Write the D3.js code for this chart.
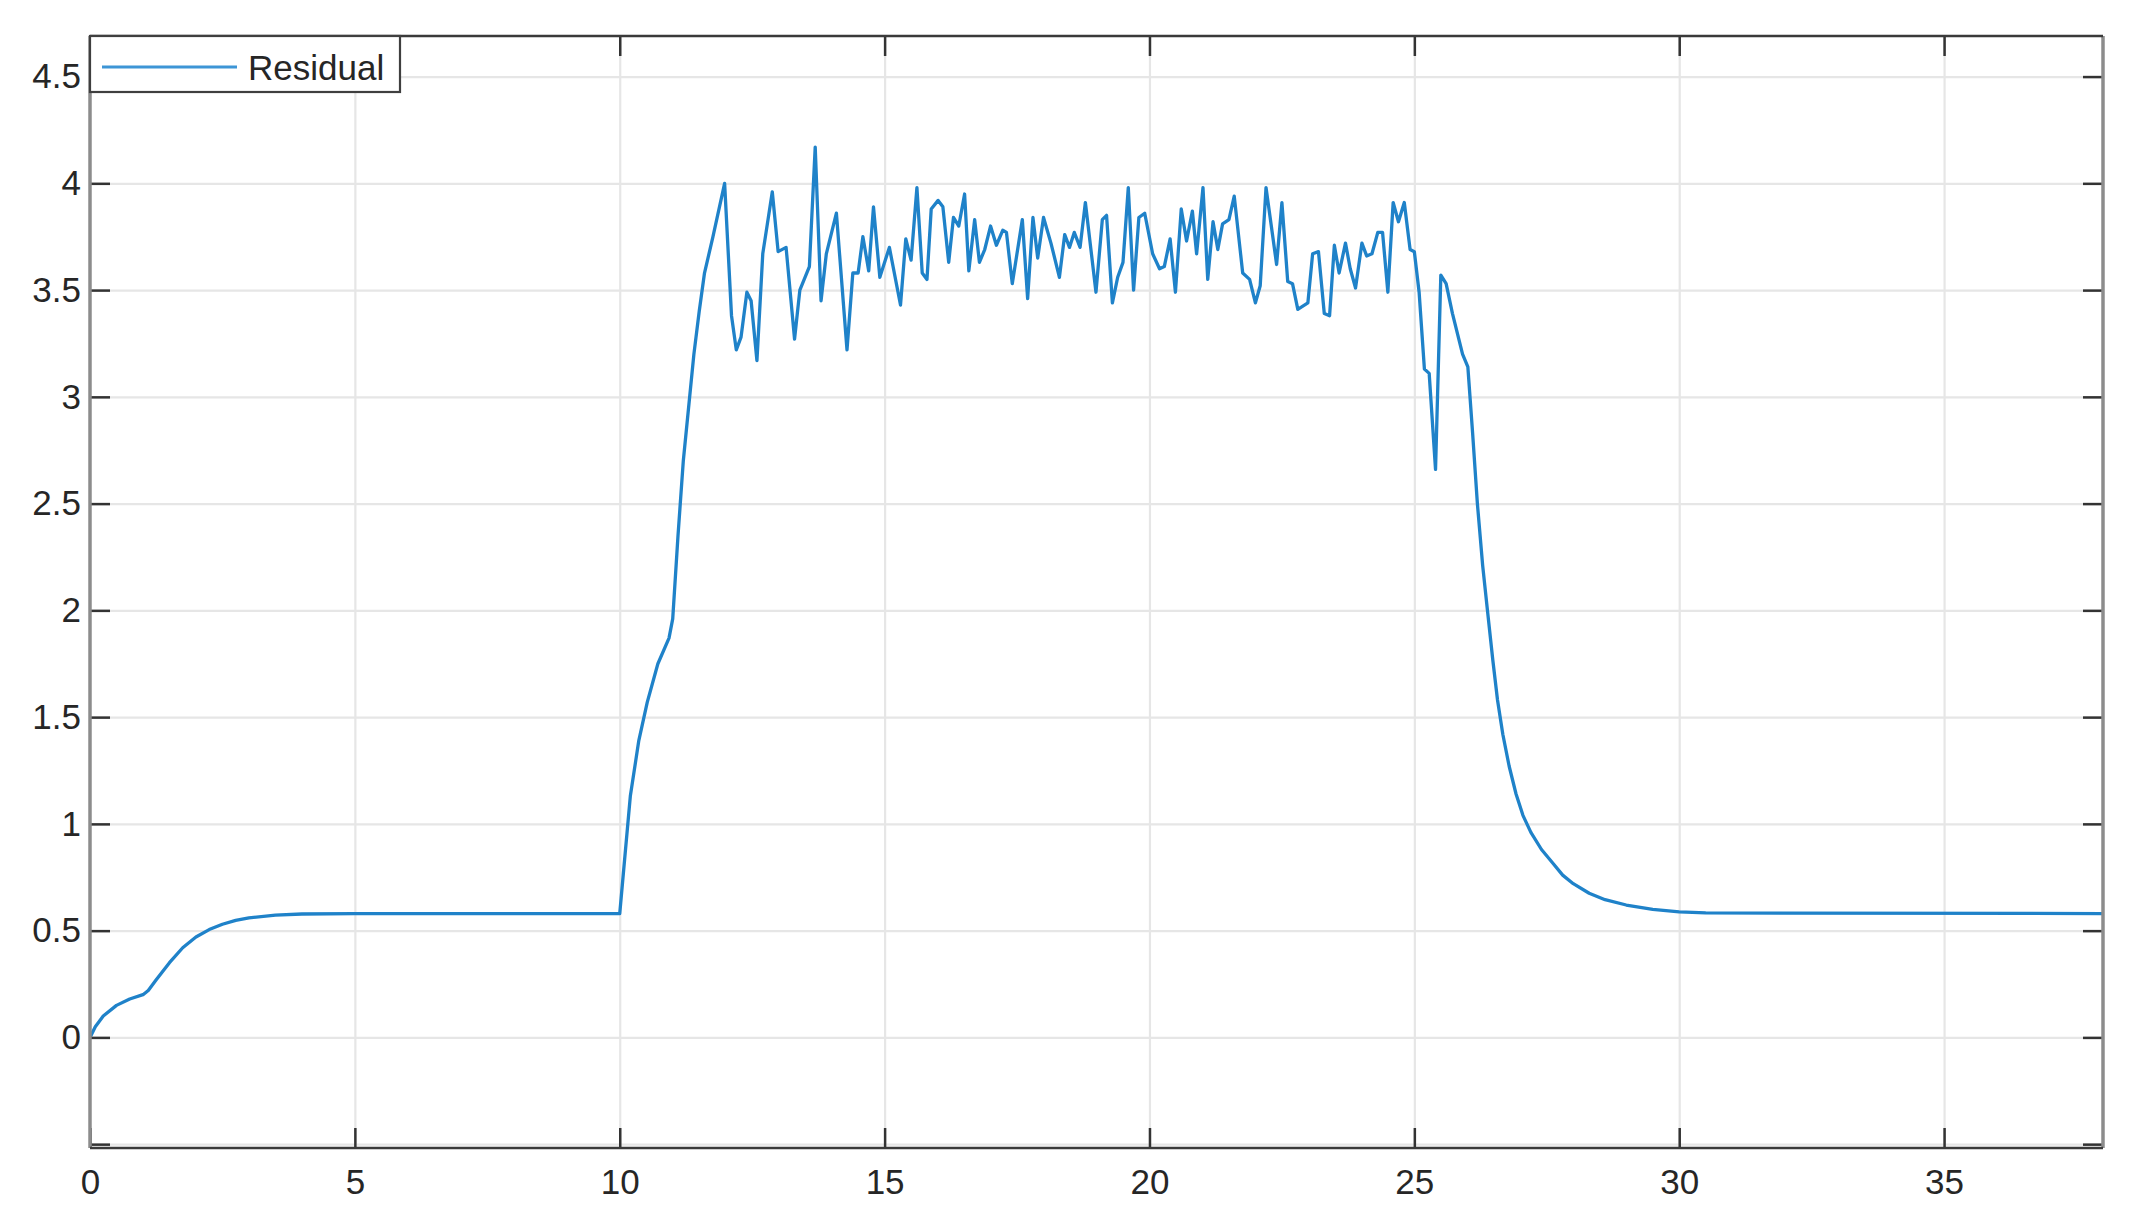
<!DOCTYPE html>
<html>
<head>
<meta charset="utf-8">
<script src="https://cdn.jsdelivr.net/npm/d3@7"></script>
<style>
  html, body { margin: 0; padding: 0; background: #ffffff; }
  svg { display: block; }
  text { font-family: "Liberation Sans", Arial, Helvetica, sans-serif; fill: #262626; }
</style>
</head>
<body>
<svg id="chart" width="2133" height="1229"></svg>
<script>
// ---------------- data ----------------
const seriesName = "Residual";
const time = [
  0, 0.1, 0.25, 0.5, 0.75, 1.0, 1.1, 1.25, 1.5, 1.75, 2.0, 2.25, 2.5, 2.75, 3.0, 3.5, 4.0, 5.0, 10.0,
  10.2, 10.36, 10.52, 10.72, 10.93, 11.0, 11.1, 11.2, 11.3, 11.4, 11.5, 11.6, 11.76, 11.98,
  12.11, 12.20, 12.29, 12.40, 12.48, 12.59, 12.70, 12.88, 12.99, 13.14, 13.30, 13.40, 13.58, 13.69,
  13.80, 13.90, 14.09, 14.29, 14.40, 14.50, 14.59, 14.70, 14.79, 14.91, 15.09, 15.30, 15.40, 15.50,
  15.61, 15.71, 15.80, 15.88, 16.01, 16.10, 16.21, 16.30, 16.40, 16.51, 16.59, 16.70, 16.79, 16.89,
  17.00, 17.11, 17.23, 17.30, 17.41, 17.60, 17.70, 17.80, 17.89, 18.00, 18.14, 18.30, 18.40, 18.49,
  18.58, 18.69, 18.79, 18.99, 19.11, 19.19, 19.30, 19.40, 19.50, 19.60, 19.70, 19.80, 19.91, 20.06,
  20.19, 20.28, 20.39, 20.49, 20.60, 20.70, 20.81, 20.89, 21.01, 21.10, 21.20, 21.29, 21.38, 21.50,
  21.60, 21.76, 21.89, 22.00, 22.09, 22.20, 22.30, 22.40, 22.50, 22.61, 22.70, 22.80, 22.99, 23.08,
  23.19, 23.30, 23.40, 23.49, 23.58, 23.70, 23.79, 23.89, 24.01, 24.10, 24.20, 24.31, 24.40, 24.50,
  24.60, 24.70, 24.81, 24.92, 25.00, 25.09, 25.19, 25.28, 25.40, 25.50, 25.60, 25.72, 25.91, 26.01,
  26.10, 26.19, 26.29, 26.38, 26.48, 26.57, 26.67, 26.79, 26.92, 27.05, 27.2, 27.4, 27.6, 27.8,
  28.0, 28.3, 28.6, 29.0, 29.5, 30.0, 30.5, 38
];
const residual = [
  0, 0.05, 0.10, 0.15, 0.18, 0.20, 0.22, 0.27, 0.35, 0.42, 0.47, 0.505, 0.53, 0.548, 0.56, 0.573, 0.578, 0.58, 0.58,
  1.13, 1.39, 1.57, 1.75, 1.87, 1.96, 2.35, 2.70, 2.95, 3.20, 3.40, 3.58, 3.75, 4.00,
  3.38, 3.22, 3.28, 3.49, 3.45, 3.17, 3.67, 3.96, 3.68, 3.70, 3.27, 3.50, 3.61, 4.17,
  3.45, 3.67, 3.86, 3.22, 3.58, 3.58, 3.75, 3.59, 3.89, 3.56, 3.70, 3.43, 3.74, 3.64,
  3.98, 3.58, 3.55, 3.88, 3.92, 3.89, 3.63, 3.84, 3.80, 3.95, 3.59, 3.83, 3.63, 3.69,
  3.80, 3.71, 3.78, 3.77, 3.53, 3.83, 3.46, 3.84, 3.65, 3.84, 3.72, 3.56, 3.76, 3.70,
  3.77, 3.70, 3.91, 3.49, 3.83, 3.85, 3.44, 3.56, 3.63, 3.98, 3.50, 3.84, 3.86, 3.67,
  3.60, 3.61, 3.74, 3.49, 3.88, 3.73, 3.87, 3.67, 3.98, 3.55, 3.82, 3.69, 3.81, 3.83,
  3.94, 3.58, 3.55, 3.44, 3.52, 3.98, 3.80, 3.62, 3.91, 3.54, 3.53, 3.41, 3.44, 3.67,
  3.68, 3.39, 3.38, 3.71, 3.58, 3.72, 3.60, 3.51, 3.72, 3.66, 3.67, 3.77, 3.77, 3.49,
  3.91, 3.82, 3.91, 3.69, 3.68, 3.49, 3.13, 3.11, 2.66, 3.57, 3.53, 3.39, 3.20, 3.14,
  2.83, 2.50, 2.21, 2.00, 1.77, 1.58, 1.42, 1.27, 1.14, 1.04, 0.96, 0.88, 0.82, 0.76,
  0.72, 0.675, 0.645, 0.62, 0.60, 0.588, 0.583, 0.58
];
const xTicks = [0, 5, 10, 15, 20, 25, 30, 35];
const xTickLabels = ["0", "5", "10", "15", "20", "25", "30", "35"];
const yTicks = [-0.5, 0, 0.5, 1, 1.5, 2, 2.5, 3, 3.5, 4, 4.5];
const yTickLabels = ["", "0", "0.5", "1", "1.5", "2", "2.5", "3", "3.5", "4", "4.5"];
const xDomain = [0, 38];
const yDomain = [-0.518, 4.69];

// ---------------- layout ----------------
const L = 90, R = 2103, T = 36, B = 1148;
const W = R - L, H = B - T;
const svg = d3.select("#chart");

const x = d3.scaleLinear().domain(xDomain).range([L, R]);
const y = d3.scaleLinear().domain(yDomain).range([B, T]);

// grid
const grid = svg.append("g");
grid.append("g").attr("transform", `translate(0,${B})`)
  .call(d3.axisBottom(x).tickValues(xTicks.filter(v => v > xDomain[0])).tickSize(-H).tickFormat(""))
  .call(g => g.select(".domain").remove())
  .call(g => g.selectAll("line").attr("stroke", "#e6e6e6").attr("stroke-width", 2.2));
grid.append("g").attr("transform", `translate(${L},0)`)
  .call(d3.axisLeft(y).tickValues(yTicks).tickSize(-W).tickFormat(""))
  .call(g => g.select(".domain").remove())
  .call(g => g.selectAll("line").attr("stroke", "#e6e6e6").attr("stroke-width", 2.2));

// line
svg.append("defs").append("clipPath").attr("id", "clip")
  .append("rect").attr("x", L).attr("y", T).attr("width", W).attr("height", H);
const pts = time.map((t, i) => [t, residual[i]]);
svg.append("path")
  .datum(pts)
  .attr("clip-path", "url(#clip)")
  .attr("fill", "none")
  .attr("stroke", "#1f82c9")
  .attr("stroke-width", 3.3)
  .attr("stroke-linejoin", "round")
  .attr("d", d3.line().x(d => x(d[0])).y(d => y(d[1])));

// axes (ticks inward)
const tickLen = 20;
const styleAxis = g => {
  g.select(".domain").remove();
  g.selectAll(".tick line").attr("stroke", "#333").attr("stroke-width", 2.5);
  g.selectAll(".tick text").attr("font-size", 35).attr("fill", "#262626")
    .style("font-family", "'Liberation Sans', Arial, sans-serif");
};
svg.append("g").attr("transform", `translate(0,${B})`)
  .call(d3.axisBottom(x).tickValues(xTicks).tickSize(-tickLen).tickPadding(21)
    .tickFormat((d, i) => xTickLabels[i]))
  .call(styleAxis);
svg.append("g").attr("transform", `translate(${L},0)`)
  .call(d3.axisLeft(y).tickValues(yTicks).tickSize(-tickLen).tickPadding(9)
    .tickFormat((d, i) => yTickLabels[i]))
  .call(styleAxis);
svg.append("g").attr("transform", `translate(0,${T})`)
  .call(d3.axisTop(x).tickValues(xTicks).tickSize(-tickLen).tickFormat(""))
  .call(styleAxis);
svg.append("g").attr("transform", `translate(${R},0)`)
  .call(d3.axisRight(y).tickValues(yTicks).tickSize(-tickLen).tickFormat(""))
  .call(styleAxis);

// frame
svg.append("line").attr("x1", L).attr("x2", L).attr("y1", T).attr("y2", B)
  .attr("stroke", "#8c8c8c").attr("stroke-width", 3.5);
svg.append("line").attr("x1", R).attr("x2", R).attr("y1", T).attr("y2", B)
  .attr("stroke", "#8c8c8c").attr("stroke-width", 3.5);
svg.append("line").attr("x1", L).attr("x2", R).attr("y1", T).attr("y2", T)
  .attr("stroke", "#3a3a3a").attr("stroke-width", 2.5);
svg.append("line").attr("x1", L).attr("x2", R).attr("y1", B).attr("y2", B)
  .attr("stroke", "#3a3a3a").attr("stroke-width", 2.5);

// legend
const lg = svg.append("g");
lg.append("rect").attr("x", L).attr("y", T).attr("width", 310).attr("height", 56)
  .attr("fill", "#ffffff").attr("stroke", "#3f3f3f").attr("stroke-width", 2.2);
lg.append("line").attr("x1", 102).attr("x2", 237).attr("y1", 67).attr("y2", 67)
  .attr("stroke", "#3d95d6").attr("stroke-width", 3.2);
lg.append("text").attr("x", 248).attr("y", 80).attr("font-size", 35)
  .attr("fill", "#262626").text(seriesName);
</script>
</body>
</html>
